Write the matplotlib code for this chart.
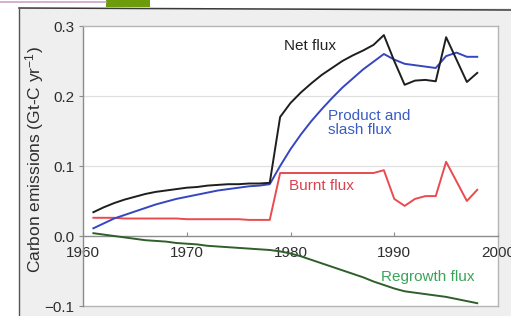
import matplotlib
matplotlib.use('Agg')
import matplotlib.pyplot as plt
from matplotlib.patches import Rectangle
from matplotlib.lines import Line2D

# ---------------- data ----------------
years = list(range(1961, 1999))
net_flux = [0.034, 0.041, 0.047, 0.052, 0.056, 0.060, 0.063, 0.065, 0.067, 0.069,
            0.070, 0.072, 0.073, 0.074, 0.074, 0.075, 0.075, 0.076, 0.170, 0.190,
            0.205, 0.218, 0.230, 0.240, 0.250, 0.258, 0.265, 0.273, 0.287, 0.250,
            0.216, 0.222, 0.223, 0.221, 0.284, 0.252, 0.220, 0.233]
product_slash_flux = [0.011, 0.018, 0.025, 0.030, 0.035, 0.040, 0.045, 0.049, 0.053, 0.056,
                      0.059, 0.062, 0.065, 0.067, 0.069, 0.071, 0.072, 0.074, 0.100, 0.124,
                      0.145, 0.164, 0.181, 0.197, 0.212, 0.225, 0.238, 0.249, 0.260, 0.252,
                      0.246, 0.244, 0.242, 0.240, 0.257, 0.262, 0.256, 0.256]
burnt_flux = [0.026, 0.026, 0.026, 0.025, 0.025, 0.025, 0.025, 0.025, 0.025, 0.024,
              0.024, 0.024, 0.024, 0.024, 0.024, 0.023, 0.023, 0.023, 0.090, 0.090,
              0.090, 0.090, 0.090, 0.090, 0.090, 0.090, 0.090, 0.090, 0.094, 0.053,
              0.043, 0.053, 0.057, 0.057, 0.106, 0.078, 0.050, 0.066]
regrowth_flux = [0.004, 0.002, 0.000, -0.002, -0.004, -0.006, -0.007, -0.008, -0.010, -0.011,
                 -0.012, -0.014, -0.015, -0.016, -0.017, -0.018, -0.019, -0.020, -0.022, -0.025,
                 -0.029, -0.034, -0.039, -0.044, -0.049, -0.054, -0.059, -0.065, -0.070, -0.075,
                 -0.079, -0.081, -0.083, -0.085, -0.087, -0.090, -0.093, -0.096]

x_ticks = [1960, 1970, 1980, 1990, 2000]
x_tick_labels = ['1960', '1970', '1980', '1990', '2000']
y_ticks = [-0.1, 0.0, 0.1, 0.2, 0.3]
y_tick_labels = ['\u22120.1', '0.0', '0.1', '0.2', '0.3']
y_label = 'Carbon emissions (Gt-C yr$^{-1}$)'

# ---------------- figure ----------------
plt.rcParams['font.family'] = ['Liberation Sans', 'DejaVu Sans']
plt.rcParams['mathtext.fontset'] = 'custom'
plt.rcParams['mathtext.rm'] = 'Liberation Sans'
plt.rcParams['mathtext.it'] = 'Liberation Sans'

W, H = 511, 316
fig = plt.figure(figsize=(W / 100, H / 100), dpi=100, facecolor='#efefef')

# scanned page decorations
fig.add_artist(Rectangle((0, 1 - 8 / H), 1, 8 / H, transform=fig.transFigure,
                         facecolor='white', edgecolor='none', zorder=0))
fig.add_artist(Rectangle((0, 0), 19 / W, 1, transform=fig.transFigure,
                         facecolor='white', edgecolor='none', zorder=0))
fig.add_artist(Rectangle((106 / W, 1 - 7 / H), 44 / W, 7 / H, transform=fig.transFigure,
                         facecolor='#6c9b0c', edgecolor='none', zorder=1))
fig.add_artist(Line2D([0, 106 / W], [1 - 1.5 / H, 1 - 1.5 / H], transform=fig.transFigure,
                      color='#c9a6c9', lw=1.2))
fig.add_artist(Line2D([19 / W, 1], [1 - 8 / H, 1 - 10 / H], transform=fig.transFigure,
                      color='#3a3a3a', lw=1.1))
fig.add_artist(Line2D([19 / W, 19 / W], [0, 1 - 8 / H], transform=fig.transFigure,
                      color='#555555', lw=1.0))

ax = fig.add_axes([83 / W, 1 - 306 / H, 415 / W, 280 / H])
ax.set_facecolor('white')
ax.set_xlim(1960, 2000)
ax.set_ylim(-0.1, 0.3)

for s in ['top', 'right']:
    ax.spines[s].set_color('#b5b5b5')
    ax.spines[s].set_linewidth(1.0)
ax.spines['left'].set_color('#8c8c8c')
ax.spines['left'].set_linewidth(1.0)
ax.spines['bottom'].set_position(('data', 0))
ax.spines['bottom'].set_color('#8c8c8c')
ax.spines['bottom'].set_linewidth(1.0)
ax.axhline(-0.1, color='#b5b5b5', lw=1.0, clip_on=False, zorder=1)
for g in [0.1, 0.2]:
    ax.axhline(g, color='#e0e0e0', lw=0.9, zorder=0)

ax.set_xticks(x_ticks)
ax.set_xticklabels(x_tick_labels)
ax.set_yticks(y_ticks)
ax.set_yticklabels(y_tick_labels)
ax.tick_params(axis='x', direction='in', length=3, color='#8c8c8c', pad=7,
               labelsize=11, labelcolor='#2e2e2e')
ax.tick_params(axis='y', direction='out', length=3, color='#8c8c8c', pad=3,
               labelsize=11, labelcolor='#2e2e2e')

lw = 1.4
ax.plot(years, regrowth_flux, color='#2f5f2a', lw=lw, zorder=5, clip_on=False)
ax.plot(years, burnt_flux, color='#ea4a50', lw=lw, zorder=4)
ax.plot(years, product_slash_flux, color='#3546c0', lw=lw, zorder=4)
ax.plot(years, net_flux, color='#1e1e1e', lw=lw, zorder=4)

fs = 11
ax.text(1979.4, 0.271, 'Net flux', color='#222222', fontsize=fs, va='center', ha='left')
ax.text(1983.65, 0.162, 'Product and\nslash flux', color='#3a5cc4', fontsize=fs,
        va='center', ha='left', linespacing=1.0)
ax.text(1979.9, 0.072, 'Burnt flux', color='#d8434d', fontsize=fs, va='center', ha='left')
ax.text(1988.75, -0.058, 'Regrowth flux', color='#3aa35a', fontsize=fs, va='center', ha='left')

fig.text(35 / W, 1 - 160 / H, y_label, rotation=90, ha='center', va='center',
         fontsize=12.5, color='#2e2e2e')

fig.savefig('out.png', dpi=100, facecolor=fig.get_facecolor())
